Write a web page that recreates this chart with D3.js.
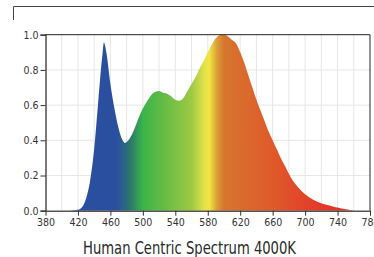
<!DOCTYPE html>
<html>
<head>
<meta charset="utf-8">
<script src="https://cdn.jsdelivr.net/npm/d3@7"></script>
<style>
  body { margin: 0; background: #fff; }
  svg { display: block; }
</style>
</head>
<body>
<div id="chart"></div>
<script>
// wavelengths (nm) and relative intensity
var wavelengths = [410, 415, 420, 425, 430, 435, 440, 445, 450, 452, 455, 460, 465, 470, 475, 478,
    480, 485, 490, 495, 500, 505, 510, 515, 520, 525, 530, 535, 540, 545, 550, 555, 560, 565,
    570, 575, 580, 585, 590, 595, 600, 605, 610, 615, 620, 625, 630, 635, 640, 645, 650, 655,
    660, 665, 670, 675, 680, 685, 690, 695, 700, 705, 710, 715, 720, 725, 730, 735, 740, 745,
    750, 755, 760];
var intensity = [0, 0.002, 0.005, 0.02, 0.07, 0.17, 0.35, 0.62, 0.88, 0.955, 0.9, 0.72, 0.58, 0.47, 0.4, 0.385,
    0.39, 0.42, 0.47, 0.53, 0.58, 0.62, 0.655, 0.675, 0.68, 0.67, 0.665, 0.65, 0.63, 0.625, 0.64, 0.68, 0.72, 0.76,
    0.81, 0.85, 0.9, 0.945, 0.98, 0.998, 1.0, 0.99, 0.97, 0.95, 0.9, 0.84, 0.77, 0.7, 0.63, 0.57, 0.51, 0.45,
    0.4, 0.35, 0.3, 0.255, 0.21, 0.17, 0.14, 0.115, 0.093, 0.076, 0.062, 0.051, 0.042, 0.035, 0.029, 0.023, 0.018, 0.012,
    0.008, 0.004, 0];

var xTicks = [380, 420, 460, 500, 540, 580, 620, 660, 700, 740, 780];
var yTicks = [0, 0.2, 0.4, 0.6, 0.8, 1.0];
var xGrid = [400, 420, 440, 460, 480, 500, 520, 540, 560, 580, 600, 620, 640, 660, 680, 700, 720, 740, 760];
var yGrid = [0.2, 0.4, 0.6, 0.8];

// fill colour along the spectrum
var stopNm = [380, 468, 485, 500, 530, 560, 576, 582, 592, 600, 660, 720, 780];
var stopColor = ["#2a4f9f", "#2a4f9f", "#2b7a6a", "#3bb44a", "#6cbd45", "#9cc944", "#e4e14a", "#f0e642",
    "#d99a38", "#d6762e", "#df5a2a", "#e3382a", "#e3302a"];

var title = "Human Centric Spectrum 4000K";

var W = 374, H = 257;
var font = "'Liberation Sans Narrow', 'DejaVu Sans Condensed', sans-serif";

var svg = d3.select("#chart")
    .append("svg")
    .attr("width", W)
    .attr("height", H);

var x = d3.scaleLinear().domain([380, 780]).range([45.5, 370]);
var y = d3.scaleLinear().domain([0, 1]).range([210.7, 34.7]);

// top frame remnant
svg.append("path")
    .attr("fill", "none")
    .attr("stroke", "#444")
    .attr("stroke-width", 1)
    .attr("d", "M 13.5 20 L 13.5 6.5 L 374 6.5");

var grad = svg.append("defs")
    .append("linearGradient")
    .attr("id", "spec")
    .attr("gradientUnits", "userSpaceOnUse")
    .attr("x1", x(380))
    .attr("x2", x(780))
    .attr("y1", 0)
    .attr("y2", 0);

grad.selectAll("stop")
    .data(stopNm)
    .enter()
    .append("stop")
    .attr("offset", function(d) { return (d - 380) / 400; })
    .attr("stop-color", function(d, i) { return stopColor[i]; });

// grid
svg.append("g")
    .selectAll("line")
    .data(xGrid)
    .enter()
    .append("line")
    .attr("x1", function(d) { return x(d); })
    .attr("x2", function(d) { return x(d); })
    .attr("y1", y(0))
    .attr("y2", y(1))
    .attr("stroke", "#e6e6e6")
    .attr("stroke-width", 1);

svg.append("g")
    .selectAll("line")
    .data(yGrid)
    .enter()
    .append("line")
    .attr("x1", x(380))
    .attr("x2", x(780))
    .attr("y1", function(d) { return y(d); })
    .attr("y2", function(d) { return y(d); })
    .attr("stroke", "#e6e6e6")
    .attr("stroke-width", 1);

// spectrum area
var pts = wavelengths.map(function(w, i) { return [w, intensity[i]]; });

var area = d3.area()
    .x(function(d) { return x(d[0]); })
    .y0(y(0))
    .y1(function(d) { return y(d[1]); })
    .curve(d3.curveMonotoneX);

svg.append("path")
    .datum(pts)
    .attr("fill", "url(#spec)")
    .attr("d", area);

// frame: top and right
svg.append("path")
    .attr("fill", "none")
    .attr("stroke", "#222")
    .attr("stroke-width", 1)
    .attr("d", "M " + x(380) + " " + y(1) + " L " + x(780) + " " + y(1) + " L " + x(780) + " " + y(0));

// axes
var yAxis = d3.axisLeft(y)
    .tickValues(yTicks)
    .tickSize(5)
    .tickPadding(2)
    .tickFormat(d3.format(".1f"));

var gy = svg.append("g")
    .attr("transform", "translate(" + x(380) + ",0)")
    .call(yAxis);

var xAxis = d3.axisBottom(x)
    .tickValues(xTicks)
    .tickSize(5)
    .tickPadding(3)
    .tickSizeOuter(0);

var gx = svg.append("g")
    .attr("transform", "translate(0," + y(0) + ")")
    .call(xAxis);

gy.select(".domain").attr("stroke", "#222").attr("stroke-width", 1.2);
gx.select(".domain").attr("stroke", "#555").attr("stroke-width", 1.5);
svg.selectAll(".tick line").attr("stroke", "#333");
svg.selectAll(".tick text")
    .attr("fill", "#333")
    .attr("font-family", font)
    .style("font-size", "10.5px");

svg.append("text")
    .attr("x", 189.5)
    .attr("y", 253.5)
    .attr("text-anchor", "middle")
    .attr("fill", "#2a2a2a")
    .attr("font-family", font)
    .attr("textLength", 213)
    .attr("lengthAdjust", "spacingAndGlyphs")
    .style("font-size", "17px")
    .text(title);
</script>
</body>
</html>
